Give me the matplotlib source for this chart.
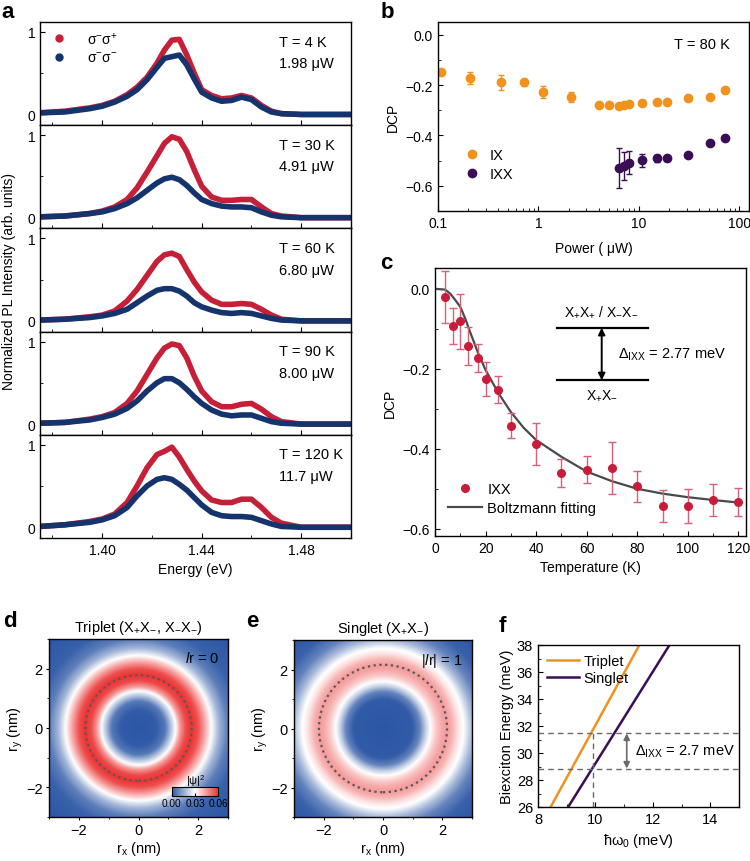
import numpy as np
import matplotlib
matplotlib.use("Agg")
import matplotlib.pyplot as plt
from matplotlib.colors import LinearSegmentedColormap
from matplotlib.lines import Line2D
from matplotlib.patches import Circle
from matplotlib.ticker import MultipleLocator, LogLocator, NullFormatter

plt.rcParams.update({
    "font.family": ["Liberation Sans", "DejaVu Sans"],
    "mathtext.fontset": "custom",
    "mathtext.rm": "Liberation Sans",
    "mathtext.it": "Liberation Sans:italic",
    "mathtext.default": "regular",
    "font.size": 10,
    "xtick.direction": "in",
    "ytick.direction": "in",
    "xtick.major.size": 3.5,
    "ytick.major.size": 3.5,
    "xtick.minor.size": 2,
    "ytick.minor.size": 2,
    "xtick.labelsize": 10,
    "ytick.labelsize": 10,
    "axes.linewidth": 1.0,
})

# ---------------- data ----------------
# (a) normalized PL spectra, sigma-sigma+ (red) and sigma-sigma- (blue)
energy = [1.375, 1.385, 1.395, 1.400, 1.405, 1.410, 1.414, 1.418, 1.422, 1.425, 1.428, 1.431, 1.434,
          1.437, 1.440, 1.444, 1.448, 1.452, 1.456, 1.460, 1.464, 1.468, 1.472, 1.480, 1.490, 1.500]
temps_a = ["4", "30", "60", "90", "120"]
powers_a = ["1.98", "4.91", "6.80", "8.00", "11.7"]
pl_cross = [
    [0.02, 0.04, 0.08, 0.11, 0.16, 0.24, 0.33, 0.45, 0.62, 0.78, 0.90, 0.91, 0.72, 0.50, 0.30, 0.23, 0.19, 0.20, 0.23, 0.20, 0.11, 0.04, 0.01, 0.0, 0.0, 0.0],
    [0.01, 0.02, 0.05, 0.08, 0.13, 0.22, 0.36, 0.55, 0.75, 0.90, 0.98, 0.95, 0.80, 0.58, 0.38, 0.25, 0.21, 0.21, 0.22, 0.22, 0.13, 0.05, 0.02, 0.0, 0.0, 0.0],
    [0.01, 0.02, 0.05, 0.07, 0.12, 0.24, 0.38, 0.55, 0.72, 0.80, 0.82, 0.78, 0.62, 0.47, 0.35, 0.25, 0.20, 0.20, 0.21, 0.20, 0.14, 0.07, 0.02, 0.0, 0.0, 0.0],
    [0.01, 0.02, 0.06, 0.09, 0.14, 0.25, 0.40, 0.60, 0.80, 0.92, 0.97, 0.95, 0.80, 0.58, 0.40, 0.27, 0.21, 0.21, 0.24, 0.25, 0.18, 0.09, 0.03, 0.0, 0.0, 0.0],
    [0.01, 0.03, 0.07, 0.10, 0.16, 0.30, 0.50, 0.72, 0.88, 0.92, 0.97, 0.85, 0.70, 0.56, 0.44, 0.33, 0.30, 0.30, 0.34, 0.34, 0.24, 0.12, 0.05, 0.0, 0.0, 0.0],
]
pl_co = [
    [0.02, 0.03, 0.07, 0.10, 0.15, 0.22, 0.30, 0.42, 0.57, 0.68, 0.70, 0.72, 0.60, 0.43, 0.27, 0.20, 0.16, 0.17, 0.21, 0.18, 0.09, 0.03, 0.01, 0.0, 0.0, 0.0],
    [0.01, 0.02, 0.05, 0.07, 0.11, 0.17, 0.24, 0.33, 0.42, 0.47, 0.49, 0.46, 0.39, 0.30, 0.22, 0.17, 0.14, 0.13, 0.13, 0.12, 0.07, 0.03, 0.01, 0.0, 0.0, 0.0],
    [0.01, 0.02, 0.04, 0.06, 0.09, 0.14, 0.22, 0.30, 0.37, 0.39, 0.39, 0.36, 0.30, 0.22, 0.17, 0.13, 0.10, 0.09, 0.10, 0.09, 0.06, 0.03, 0.01, 0.0, 0.0, 0.0],
    [0.01, 0.02, 0.05, 0.08, 0.12, 0.19, 0.28, 0.40, 0.50, 0.55, 0.55, 0.50, 0.42, 0.33, 0.25, 0.17, 0.12, 0.10, 0.11, 0.11, 0.07, 0.03, 0.01, 0.0, 0.0, 0.0],
    [0.01, 0.03, 0.06, 0.09, 0.14, 0.24, 0.38, 0.50, 0.58, 0.60, 0.58, 0.52, 0.45, 0.36, 0.27, 0.18, 0.14, 0.13, 0.13, 0.12, 0.08, 0.04, 0.01, 0.0, 0.0, 0.0],
]

# (b) DCP vs power at 80 K
ix_power = [0.108, 0.21, 0.42, 0.72, 1.12, 2.12, 4.04, 5.0, 6.36, 7.1, 7.94, 10.8, 15.2, 19.2, 31.1, 50.9, 71.9]
ix_dcp = [-0.147, -0.171, -0.19, -0.19, -0.226, -0.248, -0.281, -0.28, -0.284, -0.28, -0.276, -0.273, -0.267, -0.267, -0.253, -0.247, -0.218]
ix_err = [0.010, 0.024, 0.028, 0.013, 0.024, 0.020, 0.008, 0.006, 0.006, 0.006, 0.006, 0.008, 0.008, 0.008, 0.008, 0.008, 0.012]
ixx_power = [6.36, 7.1, 7.94, 10.8, 15.2, 19.2, 31.1, 50.9, 71.9]
ixx_dcp = [-0.529, -0.521, -0.508, -0.499, -0.491, -0.49, -0.477, -0.429, -0.411]
ixx_err = [0.080, 0.057, 0.045, 0.025, 0.013, 0.010, 0.008, 0.008, 0.008]

# (c) DCP vs temperature
temp_c = [4, 7, 10, 13, 17, 20, 25, 30, 40, 50, 60, 70, 80, 90, 100, 110, 120]
dcp_c = [-0.02, -0.093, -0.081, -0.143, -0.173, -0.225, -0.252, -0.342, -0.388, -0.46, -0.452, -0.448, -0.494, -0.542, -0.543, -0.529, -0.533]
err_c = [0.065, 0.045, 0.069, 0.048, 0.035, 0.042, 0.033, 0.032, 0.053, 0.035, 0.033, 0.064, 0.039, 0.040, 0.042, 0.040, 0.036]
fit_t = [0, 4, 6, 8, 10, 12, 14, 17, 20, 25, 30, 35, 40, 50, 60, 70, 80, 90, 100, 110, 121]
fit_dcp = [0.0, -0.002, -0.012, -0.028, -0.045, -0.075, -0.11, -0.16, -0.203, -0.26, -0.308, -0.347,
           -0.378, -0.42, -0.457, -0.481, -0.50, -0.512, -0.521, -0.528, -0.535]

# (d, e) radial profiles of |psi|^2
r_triplet = [0.0, 0.6, 0.9, 1.1, 1.25, 1.4, 1.6, 1.8, 2.0, 2.2, 2.45, 2.7, 3.0, 3.4, 4.3]
psi_triplet = [0.0, 0.001, 0.006, 0.02, 0.03, 0.045, 0.057, 0.06, 0.056, 0.045, 0.03, 0.017, 0.007, 0.002, 0.0]
r_singlet = [0.0, 1.0, 1.25, 1.45, 1.6, 1.8, 2.0, 2.16, 2.35, 2.55, 2.75, 3.0, 3.3, 3.7, 4.3]
psi_singlet = [0.0, 0.001, 0.008, 0.022, 0.03, 0.038, 0.043, 0.045, 0.041, 0.034, 0.029, 0.018, 0.008, 0.002, 0.0]
ring_triplet = 1.78
ring_singlet = 2.16

# (f) biexciton energy vs hbar*omega0
triplet_hw = [8.44, 11.53]
triplet_e = [26, 38]
singlet_hw = [9.05, 12.58]
singlet_e = [26, 38]
level_triplet = 31.5
level_singlet = 28.8
hw_match = 9.9

RED = "#C62038"
NAVY = "#15336C"
ORANGE = "#F0921E"
PURPLE = "#3A0D55"
CRED = "#C81D3A"

W, H = 750, 862
fig = plt.figure(figsize=(7.5, 8.62), dpi=100)


def box(x0, y0, x1, y1):
    return fig.add_axes([x0 / W, 1 - y1 / H, (x1 - x0) / W, (y1 - y0) / H])


# ---------------- (a) ----------------
h_a = (539 - 23) / 5
for i in range(5):
    ax = box(40, 23 + i * h_a, 351, 23 + (i + 1) * h_a)
    ax.plot(energy, pl_cross[i], color=RED, lw=4.0, solid_joinstyle="round", solid_capstyle="round")
    ax.plot(energy, pl_co[i], color=NAVY, lw=4.0, solid_joinstyle="round", solid_capstyle="round")
    ax.set_xlim(1.375, 1.50)
    ax.set_ylim(-0.13, 1.12)
    ax.set_yticks([0, 1])
    ax.set_yticklabels(["0", "1"])
    ax.yaxis.set_minor_locator(MultipleLocator(0.5))
    ax.set_xticks([1.40, 1.44, 1.48])
    ax.xaxis.set_minor_locator(MultipleLocator(0.02))
    if i < 4:
        ax.tick_params(labelbottom=False)
    ax.text(0.768, 0.81, f"T = {temps_a[i]} K", transform=ax.transAxes, fontsize=10.5, va="center")
    ax.text(0.768, 0.60, f"{powers_a[i]} μW", transform=ax.transAxes, fontsize=10.5, va="center")
    if i == 0:
        handles = [Line2D([], [], ls="", marker="o", ms=5, color=RED),
                   Line2D([], [], ls="", marker="o", ms=5, color=NAVY)]
        ax.legend(handles, [r"$\sigma^{-}\sigma^{+}$", r"$\sigma^{-}\sigma^{-}$"], loc="upper left",
                  frameon=False, fontsize=10, handletextpad=1.0, borderaxespad=0.2,
                  bbox_to_anchor=(-0.01, 1.0), labelspacing=0.3)
    if i == 4:
        ax.set_xlabel("Energy (eV)", fontsize=10)
fig.text(0.012, 1 - 281 / H, "Normalized PL Intensity (arb. units)", rotation=90,
         ha="center", va="center", fontsize=10)

# ---------------- (b) ----------------
ax = box(438, 23, 749, 212)
ax.set_xscale("log")
ax.errorbar(ix_power, ix_dcp, yerr=ix_err, fmt="o", color=ORANGE, ms=6, capsize=2.5, elinewidth=1, label="IX")
ax.errorbar(ixx_power, ixx_dcp, yerr=ixx_err, fmt="o", color=PURPLE, ms=6, capsize=2.5, elinewidth=1, label="IXX")
ax.set_xlim(0.1, 125)
ax.set_ylim(-0.70, 0.05)
ax.set_xticks([0.1, 1, 10, 100])
ax.set_xticklabels(["0.1", "1", "10", "100"])
ax.xaxis.set_minor_locator(LogLocator(base=10, subs=np.arange(2, 10)))
ax.xaxis.set_minor_formatter(NullFormatter())
ax.set_yticks([0.0, -0.2, -0.4, -0.6])
ax.set_yticklabels(["0.0", "\u22120.2", "\u22120.4", "\u22120.6"])
ax.yaxis.set_minor_locator(MultipleLocator(0.1))
ax.set_xlabel("Power ( μW)", fontsize=10, labelpad=8)
ax.set_ylabel("DCP", fontsize=10)
ax.text(0.94, 0.886, "T = 80 K", transform=ax.transAxes, ha="right", va="center", fontsize=10.5)
hb, lb = ax.get_legend_handles_labels()
ax.legend([h[0] for h in hb], lb, loc="lower left", bbox_to_anchor=(0.02, 0.09), frameon=False,
          fontsize=10.5, handletextpad=0.2, labelspacing=0.35)

# ---------------- (c) ----------------
ax = box(435, 269, 746, 537)
ax.errorbar(temp_c, dcp_c, yerr=err_c, fmt="o", color=CRED, ecolor="#D9607A", ms=5.5,
            capsize=3, elinewidth=1, capthick=1, label="IXX", zorder=3)
ax.plot(fit_t, fit_dcp, color="#4A4A4A", lw=1.6, label="Boltzmann fitting", zorder=2)
ax.set_xlim(0, 123)
ax.set_ylim(-0.618, 0.052)
ax.set_xticks(range(0, 121, 20))
ax.xaxis.set_minor_locator(MultipleLocator(10))
ax.set_yticks([0.0, -0.2, -0.4, -0.6])
ax.set_yticklabels(["0.0", "\u22120.2", "\u22120.4", "\u22120.6"])
ax.yaxis.set_minor_locator(MultipleLocator(0.1))
ax.set_xlabel("Temperature (K)", fontsize=10)
ax.set_ylabel("DCP", fontsize=10)
hc, lc = ax.get_legend_handles_labels()
ax.legend([hc[1][0], hc[0]], [lc[1], lc[0]], loc="lower left", bbox_to_anchor=(0.0, 0.03),
          frameon=False, fontsize=10.5, handlelength=2.3, handletextpad=0.4, labelspacing=0.3)
# energy-level scheme
ax.plot([0.392, 0.685], [0.775, 0.775], color="black", lw=1.6, transform=ax.transAxes)
ax.plot([0.392, 0.685], [0.583, 0.583], color="black", lw=1.6, transform=ax.transAxes)
ax.annotate("", xy=(0.536, 0.777), xytext=(0.536, 0.581), xycoords="axes fraction",
            arrowprops=dict(arrowstyle="<|-|>", color="black", lw=1.4, mutation_scale=10, shrinkA=0, shrinkB=0))
ax.text(0.536, 0.84, r"X$_{+}$X$_{+}$ / X$_{-}$X$_{-}$", transform=ax.transAxes, ha="center", va="center", fontsize=10)
ax.text(0.536, 0.525, r"X$_{+}$X$_{-}$", transform=ax.transAxes, ha="center", va="center", fontsize=10)
ax.text(0.587, 0.68, r"$\Delta_{\rm IXX}$ = 2.77 meV", transform=ax.transAxes, ha="left", va="center", fontsize=10.5)

# ---------------- (d, e) ----------------
cmap = LinearSegmentedColormap.from_list("bwr_psi", ["#2C57A5", "#FFFFFF", "#EC3434"])
grid = np.linspace(-3, 3, 400)
gx, gy = np.meshgrid(grid, grid)
rr = np.hypot(gx, gy)

maps = [
    (box(49, 640, 228, 818), r_triplet, psi_triplet, ring_triplet,
     r"Triplet (X$_{+}$X$_{-}$, X$_{-}$X$_{-}$)", r"$\mathit{l}$r = 0"),
    (box(294, 641, 472, 818), r_singlet, psi_singlet, ring_singlet,
     r"Singlet (X$_{+}$X$_{-}$)", r"|$\mathit{l}$r| = 1"),
]
for ax, rp, vp, ring, title, tag in maps:
    z = np.interp(rr, rp, vp)
    im = ax.imshow(z, extent=(-3, 3, -3, 3), origin="lower", cmap=cmap, vmin=0, vmax=0.06,
                   interpolation="bilinear")
    ax.add_patch(Circle((0, 0), ring, fill=False, ls=(0, (1, 1.6)), lw=1.6, color="#4F5B5E"))
    ax.set_xlim(-3, 3)
    ax.set_ylim(-3, 3)
    ax.set_xticks([-2, 0, 2])
    ax.set_yticks([-2, 0, 2])
    ax.set_xticklabels(["\u22122", "0", "2"])
    ax.set_yticklabels(["\u22122", "0", "2"])
    ax.xaxis.set_minor_locator(MultipleLocator(1))
    ax.yaxis.set_minor_locator(MultipleLocator(1))
    ax.tick_params(which="both", direction="out", labelsize=10.5, pad=2)
    ax.tick_params(which="major", length=2.5)
    ax.tick_params(which="minor", length=1.5)
    ax.set_xlabel(r"r$_{x}$ (nm)", fontsize=10.5, labelpad=1)
    ax.set_ylabel(r"r$_{y}$ (nm)", fontsize=10.5, labelpad=1)
    ax.set_title(title, fontsize=10.5, pad=6)
    ax.text(0.95, 0.94, tag, transform=ax.transAxes, ha="right", va="top", fontsize=10.5)
    ax.set_aspect("auto")

cax = fig.add_axes([171.7 / W, 1 - 796.7 / H, 46.6 / W, 8.7 / H])
cb = fig.colorbar(im, cax=cax, orientation="horizontal", ticks=[0, 0.03, 0.06])
cb.ax.set_xticklabels(["0.00", "0.03", "0.06"])
cb.ax.tick_params(labelsize=7.3, pad=1.5, length=2)
cb.outline.set_linewidth(0.8)
fig.text(196 / W, 1 - 781 / H, r"|ψ|$^{2}$", ha="center", va="center", fontsize=8)

# ---------------- (f) ----------------
ax = box(538, 646, 739, 808)
ax.plot(triplet_hw, triplet_e, color=ORANGE, lw=1.8, label="Triplet")
ax.plot(singlet_hw, singlet_e, color=PURPLE, lw=1.8, label="Singlet")
ax.axhline(level_triplet, color="#6A6A6A", lw=1, ls=(0, (4, 3)))
ax.axhline(level_singlet, color="#6A6A6A", lw=1, ls=(0, (4, 3)))
ax.plot([hw_match, hw_match], [26, level_triplet], color="#6A6A6A", lw=1, ls=(0, (4, 3)))
ax.annotate("", xy=(11.09, level_triplet - 0.05), xytext=(11.09, level_singlet + 0.05),
            arrowprops=dict(arrowstyle="<|-|>", color="#6A6A6A", lw=1.2, mutation_scale=9, shrinkA=0, shrinkB=0))
ax.text(11.38, 30.15, r"$\Delta_{\rm IXX}$ = 2.7 meV", ha="left", va="center", fontsize=10.5)
ax.set_xlim(8, 15)
ax.set_ylim(26, 38)
ax.set_xticks([8, 10, 12, 14])
ax.xaxis.set_minor_locator(MultipleLocator(1))
ax.set_yticks(range(26, 39, 2))
ax.yaxis.set_minor_locator(MultipleLocator(1))
ax.tick_params(labelsize=10.5)
ax.set_xlabel(r"$\hbar\omega_0$ (meV)", fontsize=10.5)
ax.set_ylabel("Biexciton Energy (meV)", fontsize=10.5, labelpad=2)
ax.legend(loc="upper left", frameon=False, fontsize=10.5, handlelength=2.2, handletextpad=0.3,
          borderaxespad=0.2, labelspacing=0.2)

# panel letters
for lab, x, y in [("a", 0.002, 0.998), ("b", 0.507, 0.998), ("c", 0.507, 0.706),
                  ("d", 0.004, 0.291), ("e", 0.328, 0.291), ("f", 0.665, 0.285)]:
    fig.text(x, y, lab, fontsize=16, fontweight="bold", ha="left", va="top")

fig.savefig("out.png", dpi=100)
